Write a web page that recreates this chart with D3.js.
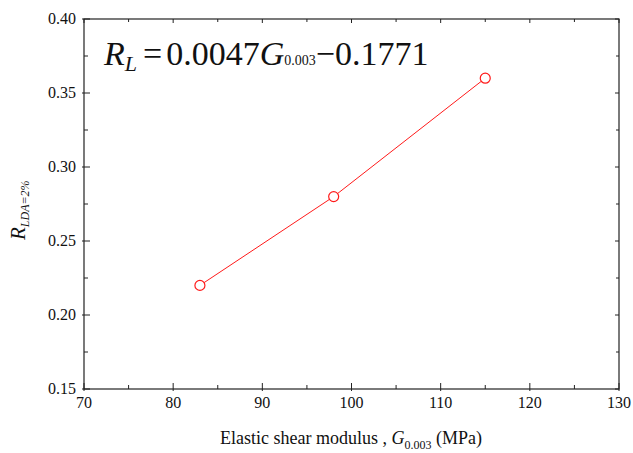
<!DOCTYPE html>
<html>
<head>
<meta charset="utf-8">
<script src="https://cdn.jsdelivr.net/npm/d3@7"></script>
<style>
  html, body { margin: 0; padding: 0; background: #fff; }
</style>
</head>
<body>
<svg id="chart" width="633" height="453" font-family="'Liberation Serif', 'Times New Roman', Times, serif"></svg>
<script>
// Elastic shear modulus (MPa) and liquefaction resistance R at DA = 2%
const modulus = [83, 98, 115];
const resistance = [0.22, 0.28, 0.36];
const xTicks = [70, 80, 90, 100, 110, 120, 130];
const yTicks = [0.15, 0.20, 0.25, 0.30, 0.35, 0.40];

(function () {
const svg = d3.select("#chart");
const pLeft = 84, pRight = 619, pTop = 19, pBottom = 389;
const ink = "#111";

const x = d3.scaleLinear().domain([70, 130]).range([pLeft, pRight]);
const y = d3.scaleLinear().domain([0.15, 0.40]).range([pBottom, pTop]);

const xMinor = d3.range(75, 130, 10);
const yMinor = d3.range(0.175, 0.40, 0.05);

// Frame
svg.append("rect")
  .attr("x", pLeft).attr("y", pTop)
  .attr("width", pRight - pLeft).attr("height", pBottom - pTop)
  .attr("fill", "none").attr("stroke", "#222").attr("stroke-width", 1.2);

const tickG = svg.append("g").attr("stroke", "#222").attr("stroke-width", 1);

// Bottom axis ticks (inward, with slight outward stub)
xTicks.forEach(v => tickG.append("line").attr("x1", x(v)).attr("x2", x(v)).attr("y1", pBottom + 2).attr("y2", pBottom - 6));
xMinor.forEach(v => tickG.append("line").attr("x1", x(v)).attr("x2", x(v)).attr("y1", pBottom).attr("y2", pBottom - 4));
// Top axis ticks
xTicks.forEach(v => tickG.append("line").attr("x1", x(v)).attr("x2", x(v)).attr("y1", pTop).attr("y2", pTop + 4));
xMinor.forEach(v => tickG.append("line").attr("x1", x(v)).attr("x2", x(v)).attr("y1", pTop).attr("y2", pTop + 3));
// Left axis ticks
yTicks.forEach(v => tickG.append("line").attr("y1", y(v)).attr("y2", y(v)).attr("x1", pLeft - 2).attr("x2", pLeft + 6));
yMinor.forEach(v => tickG.append("line").attr("y1", y(v)).attr("y2", y(v)).attr("x1", pLeft).attr("x2", pLeft + 4));
// Right axis ticks
yTicks.forEach(v => tickG.append("line").attr("y1", y(v)).attr("y2", y(v)).attr("x1", pRight).attr("x2", pRight - 4));
yMinor.forEach(v => tickG.append("line").attr("y1", y(v)).attr("y2", y(v)).attr("x1", pRight).attr("x2", pRight - 3));

// Tick labels
svg.append("g").selectAll("text").data(xTicks).join("text")
  .attr("x", d => x(d)).attr("y", pBottom + 19)
  .attr("text-anchor", "middle").attr("font-size", 16).attr("fill", ink)
  .text(d => d);

svg.append("g").selectAll("text").data(yTicks).join("text")
  .attr("x", pLeft - 8).attr("y", d => y(d) + 5)
  .attr("text-anchor", "end").attr("font-size", 16).attr("fill", ink)
  .text(d => d.toFixed(2));

// Data line and markers
const line = d3.line().x((d, i) => x(modulus[i])).y(d => y(d));
svg.append("path")
  .datum(resistance)
  .attr("d", line)
  .attr("fill", "none").attr("stroke", "#ff1a1a").attr("stroke-width", 1);

svg.append("g").selectAll("circle").data(resistance).join("circle")
  .attr("cx", (d, i) => x(modulus[i])).attr("cy", d => y(d))
  .attr("r", 5)
  .attr("fill", "#fff").attr("stroke", "#ff1a1a").attr("stroke-width", 1.2);

// Regression equation
const eq = svg.append("text").attr("x", 104).attr("y", 65).attr("font-size", 34).attr("fill", ink);
eq.append("tspan").attr("font-style", "italic").text("R");
eq.append("tspan").attr("font-style", "italic").attr("font-size", 22).attr("dy", 6).text("L");
eq.append("tspan").attr("dy", -6).attr("dx", 6).text("=");
eq.append("tspan").attr("dx", 4).text("0.0047");
eq.append("tspan").attr("font-style", "italic").text("G");
eq.append("tspan").attr("font-size", 14).text("0.003");
eq.append("tspan").text("−0.1771");

// X axis title
const xt = svg.append("text").attr("x", 351).attr("y", 444).attr("text-anchor", "middle").attr("font-size", 18).attr("fill", ink);
xt.append("tspan").text("Elastic shear modulus , ");
xt.append("tspan").attr("font-style", "italic").text("G");
xt.append("tspan").attr("font-size", 12).attr("dy", 5).text("0.003");
xt.append("tspan").attr("dy", -5).text(" (MPa)");

// Y axis title
const yt = svg.append("text")
  .attr("transform", "translate(25,240) rotate(-90)")
  .attr("font-size", 21).attr("fill", ink);
yt.append("tspan").attr("font-style", "italic").text("R");
yt.append("tspan").attr("font-size", 12).attr("font-style", "italic").attr("dy", 4).text("LDA=2%");
})();
</script>
</body>
</html>
